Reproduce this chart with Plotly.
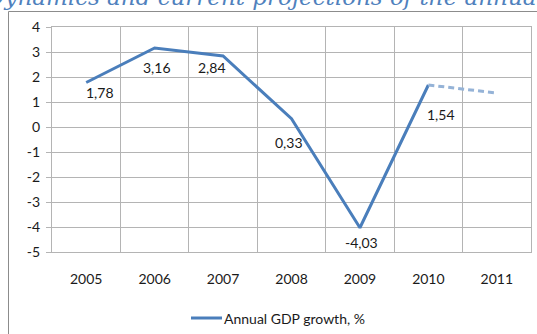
import plotly.graph_objects as go

years = ["2005", "2006", "2007", "2008", "2009", "2010", "2011"]
gdp_actual = [1.78, 3.16, 2.84, 0.33, -4.03, 1.68]
forecast_years = ["2010", "2011"]
gdp_forecast = [1.68, 1.36]
label_text = ["1,78", "3,16", "2,84", "0,33", "-4,03", "1,54"]
y_ticks = [4, 3, 2, 1, 0, -1, -2, -3, -4, -5]
series_name = "Annual GDP growth, %"
title_text = "Dynamics and current projections of the annual GDP growth"

# label offsets (px) relative to each point: (x, y-up)
label_offsets = [(14, -10), (2, -19), (-11, -11), (-3, -24), (2, -15), (13, -29)]

FONT = "Lato"
GRID = "#b4b4b4"
LINE = "#4a7ebb"
L, R, T, B = 52, 6, 27, 82
PW, PH = 537 - L - R, 334 - T - B


def px_x(p):
    return (p - L) / PW


def px_y(p):
    return 1 - (p - T) / PH


fig = go.Figure()
fig.add_trace(go.Scatter(
    x=years[:len(gdp_actual)], y=gdp_actual, mode="lines", name=series_name,
    line=dict(color=LINE, width=3), showlegend=False))
fig.add_trace(go.Scatter(
    x=forecast_years, y=gdp_forecast, mode="lines", showlegend=False,
    line=dict(color="#95b3d7", width=3, dash="6px,4px")))

for i, (v, t, (dx, dy)) in enumerate(zip(gdp_actual, label_text, label_offsets)):
    fig.add_annotation(x=i, y=v, xref="x", yref="y", text=t, showarrow=False,
                       xshift=dx, yshift=dy,
                       font=dict(family=FONT, size=14, color="#1a1a1a"))

# chart title (cut off at top like the original)
fig.add_annotation(xref="paper", yref="paper", x=px_x(-17), y=px_y(12),
                   xanchor="left", yanchor="bottom", text=title_text, showarrow=False,
                   font=dict(family="DejaVu Serif", size=23, color="#4f81bd", style="italic"))

# legend drawn by hand: line sample + text
fig.add_shape(type="line", xref="paper", yref="paper", x0=px_x(191), x1=px_x(222),
              y0=px_y(318), y1=px_y(318), line=dict(color=LINE, width=3))
fig.add_annotation(xref="paper", yref="paper", x=px_x(222), y=px_y(318),
                   xanchor="left", yanchor="middle", text=series_name, showarrow=False,
                   font=dict(family=FONT, size=14, color="#1a1a1a"))

# outer chart border
fig.add_shape(type="rect", xref="paper", yref="paper",
              x0=px_x(8.5), x1=px_x(560), y0=px_y(360), y1=px_y(11.5),
              line=dict(color="#8c8c8c", width=1), fillcolor="rgba(0,0,0,0)", layer="below")

fig.update_layout(
    width=537, height=334,
    margin=dict(l=L, r=R, t=T, b=B, autoexpand=False),
    paper_bgcolor="white", plot_bgcolor="white",
    font=dict(family=FONT, size=14, color="#1a1a1a"),
    showlegend=False,
    xaxis=dict(type="category", categoryarray=years, range=[-0.5, 6.5],
               tickson="boundaries", ticks="", showgrid=True, gridcolor=GRID, gridwidth=1,
               showline=True, linecolor=GRID, mirror=True, ticklabelstandoff=14,
               zeroline=False, fixedrange=True, automargin=False),
    yaxis=dict(range=[-5, 4], tickvals=y_ticks, ticktext=[str(v) for v in y_ticks],
               ticks="outside", ticklen=5, tickcolor=GRID, showgrid=True, gridcolor=GRID,
               showline=True, linecolor=GRID, mirror=True, zeroline=False,
               ticklabelstandoff=3, fixedrange=True, automargin=False),
)

fig.write_html("out.html")
